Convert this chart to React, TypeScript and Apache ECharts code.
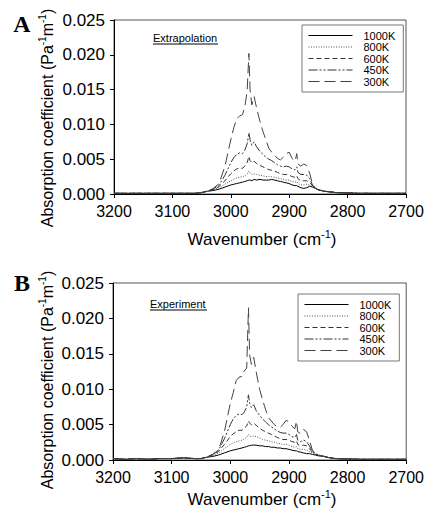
import React, { useEffect, useRef } from "react";
import * as echarts from "echarts";

const wavenumbers = [3200,3180,3160,3140,3120,3100,3080,3060,3050,3040,3030,3020,3010,3000,2995,2990,2985,2980,2976,2972,2969,2967,2964,2960,2956,2950,2945,2940,2935,2930,2925,2920,2915,2910,2905,2900,2895,2890,2887,2885,2880,2875,2870,2865,2860,2855,2850,2840,2830,2820,2800,2780,2760,2740,2720,2700];

const seriesNames = ["1000K", "800K", "600K", "450K", "300K"];
const yTicks = [0, 0.005, 0.01, 0.015, 0.02, 0.025];

// Panel A (Extrapolation)
const extrap1000K = [0.0001,0.0001,0.0001,0.0001,0.0001,0.0001,0.0001,0.0001,0.0002,0.0004,0.0005,0.0007,0.0010,0.0013,0.0014,0.0015,0.0016,0.0017,0.0018,0.0019,0.0020,0.0020,0.0019,0.0021,0.0020,0.0021,0.0020,0.0020,0.0020,0.0021,0.0020,0.0019,0.0018,0.0017,0.0016,0.0015,0.0013,0.0012,0.0012,0.0011,0.0009,0.0008,0.0009,0.0011,0.0010,0.0008,0.0006,0.0004,0.0003,0.0002,0.00015,0.0001,0.0001,0.0001,0.0001,0.0001];
const extrap800K = [0.0001,0.0001,0.0001,0.0001,0.0001,0.0001,0.0001,0.0001,0.0002,0.0004,0.0006,0.0009,0.0014,0.0019,0.0021,0.0023,0.0024,0.0025,0.0026,0.0029,0.0033,0.0030,0.0028,0.0029,0.0028,0.0027,0.0026,0.0025,0.0025,0.0025,0.0024,0.0023,0.0022,0.0021,0.0020,0.0020,0.0018,0.0017,0.0018,0.0015,0.0013,0.0013,0.0014,0.0013,0.0011,0.0008,0.0006,0.0004,0.0003,0.0002,0.00015,0.0001,0.0001,0.0001,0.0001,0.0001];
const extrap600K = [0.0001,0.0001,0.0001,0.0001,0.0001,0.0001,0.0001,0.0001,0.0002,0.0004,0.0006,0.0011,0.0019,0.0029,0.0033,0.0036,0.0037,0.0037,0.0040,0.0045,0.0054,0.0048,0.0045,0.0047,0.0044,0.0041,0.0039,0.0037,0.0035,0.0034,0.0033,0.0031,0.0029,0.0028,0.0028,0.0027,0.0025,0.0024,0.0026,0.0022,0.0019,0.0019,0.0019,0.0017,0.0012,0.0008,0.0006,0.0004,0.0003,0.0002,0.00015,0.0001,0.0001,0.0001,0.0001,0.0001];
const extrap450K = [0.0001,0.0001,0.0001,0.0001,0.0001,0.0001,0.0001,0.0001,0.0002,0.0004,0.0007,0.0013,0.0027,0.0045,0.0052,0.0057,0.0059,0.0058,0.0063,0.0072,0.0088,0.0078,0.0070,0.0075,0.0068,0.0061,0.0057,0.0053,0.0050,0.0048,0.0045,0.0042,0.0040,0.0039,0.0040,0.0039,0.0036,0.0035,0.0039,0.0031,0.0028,0.0028,0.0027,0.0022,0.0013,0.0008,0.0006,0.0004,0.0003,0.0002,0.00015,0.0001,0.0001,0.0001,0.0001,0.0001];
const extrap300K = [0.0001,0.0001,0.0001,0.0001,0.0001,0.0001,0.0001,0.0001,0.0002,0.0004,0.0008,0.0015,0.0040,0.0078,0.0095,0.0108,0.0112,0.0114,0.0125,0.0148,0.0202,0.0150,0.0128,0.0140,0.0124,0.0104,0.0090,0.0078,0.0066,0.0060,0.0056,0.0051,0.0049,0.0053,0.0058,0.0060,0.0051,0.0047,0.0058,0.0043,0.0040,0.0043,0.0041,0.0030,0.0014,0.0008,0.0006,0.0004,0.0003,0.0002,0.00015,0.0001,0.0001,0.0001,0.0001,0.0001];

// Panel B (Experiment)
const exper1000K = [0.0002,0.0001,0.0002,0.0001,0.0002,0.0002,0.0003,0.0002,0.0002,0.0004,0.0005,0.0007,0.0010,0.0013,0.0014,0.0015,0.0016,0.0017,0.0018,0.0019,0.0020,0.0020,0.0021,0.0021,0.0021,0.0020,0.0020,0.0019,0.0019,0.0018,0.0018,0.0017,0.0017,0.0016,0.0016,0.0015,0.0014,0.0013,0.0013,0.0012,0.0011,0.0010,0.0009,0.0009,0.0008,0.0007,0.0006,0.0005,0.0003,0.0002,0.00015,0.0001,0.0001,0.0001,0.0001,0.0001];
const exper800K = [0.0002,0.0001,0.0002,0.0001,0.0002,0.0002,0.0003,0.0002,0.0002,0.0004,0.0006,0.0010,0.0016,0.0022,0.0024,0.0026,0.0027,0.0028,0.0030,0.0032,0.0036,0.0034,0.0033,0.0034,0.0033,0.0031,0.0029,0.0028,0.0027,0.0026,0.0025,0.0024,0.0023,0.0022,0.0022,0.0021,0.0019,0.0018,0.0019,0.0016,0.0015,0.0015,0.0014,0.0012,0.0010,0.0008,0.0006,0.0005,0.0003,0.0002,0.00015,0.0001,0.0001,0.0001,0.0001,0.0001];
const exper600K = [0.0002,0.0001,0.0002,0.0001,0.0002,0.0002,0.0003,0.0002,0.0002,0.0004,0.0007,0.0012,0.0022,0.0033,0.0037,0.0040,0.0042,0.0042,0.0045,0.0048,0.0055,0.0052,0.0050,0.0052,0.0049,0.0045,0.0042,0.0040,0.0038,0.0036,0.0034,0.0032,0.0030,0.0029,0.0029,0.0028,0.0026,0.0025,0.0027,0.0022,0.0020,0.0021,0.0020,0.0016,0.0011,0.0008,0.0007,0.0005,0.0003,0.0002,0.00015,0.0001,0.0001,0.0001,0.0001,0.0001];
const exper450K = [0.0002,0.0001,0.0002,0.0001,0.0002,0.0002,0.0003,0.0002,0.0002,0.0004,0.0008,0.0014,0.0030,0.0050,0.0058,0.0063,0.0065,0.0064,0.0068,0.0075,0.0092,0.0080,0.0074,0.0078,0.0070,0.0063,0.0058,0.0054,0.0050,0.0047,0.0044,0.0041,0.0039,0.0038,0.0038,0.0036,0.0033,0.0032,0.0036,0.0028,0.0026,0.0028,0.0026,0.0020,0.0012,0.0009,0.0007,0.0005,0.0003,0.0002,0.00015,0.0001,0.0001,0.0001,0.0001,0.0001];
const exper300K = [0.0002,0.0001,0.0002,0.0001,0.0002,0.0002,0.0003,0.0002,0.0002,0.0004,0.0008,0.0014,0.0040,0.0080,0.0095,0.0112,0.0117,0.0118,0.0126,0.0130,0.0215,0.0148,0.0135,0.0145,0.0125,0.0100,0.0085,0.0072,0.0060,0.0055,0.0050,0.0047,0.0046,0.0050,0.0056,0.0054,0.0048,0.0044,0.0055,0.0040,0.0037,0.0043,0.0040,0.0028,0.0014,0.0009,0.0007,0.0005,0.0003,0.0002,0.00015,0.0001,0.0001,0.0001,0.0001,0.0001];

const FONT = "'Liberation Sans', Arial, sans-serif";

const lineStyles: Record<string, any> = {
  "1000K": { color: "#000", type: "solid", width: 1 },
  "800K": { color: "#555", type: [1, 1.5], width: 1 },
  "600K": { color: "#333", type: [5, 3], width: 1 },
  "450K": { color: "#333", type: [9, 2, 2, 2, 2, 2], width: 1 },
  "300K": { color: "#444", type: [11, 5], width: 1 },
};

function makeSeries(name: string, values: number[], idx: number) {
  return {
    type: "line",
    name,
    xAxisIndex: idx,
    yAxisIndex: idx,
    data: wavenumbers.map((w, i) => [w, values[i]]),
    showSymbol: false,
    symbol: "none",
    lineStyle: lineStyles[name],
    itemStyle: { color: lineStyles[name].color },
    silent: true,
  };
}

function xAxis(gridIndex: number) {
  return {
    gridIndex,
    type: "value",
    inverse: true,
    min: 2700,
    max: 3200,
    interval: 100,
    axisLine: { show: true, lineStyle: { color: "#000", width: 1 } },
    axisTick: { show: true, inside: false, length: 4, lineStyle: { color: "#000" } },
    axisLabel: { fontSize: 16, fontFamily: FONT, color: "#000", margin: 9, formatter: (v: number) => String(Math.round(v)) },
    splitLine: { show: false },
  };
}

function yAxis(gridIndex: number) {
  return {
    gridIndex,
    type: "value",
    min: 0,
    max: 0.025,
    interval: 0.005,
    axisLine: { show: true, lineStyle: { color: "#000", width: 1 } },
    axisTick: { show: true, inside: false, length: 4, lineStyle: { color: "#000" } },
    axisLabel: {
      fontSize: 17,
      fontFamily: FONT,
      color: "#000",
      margin: 9,
      formatter: (v: number) => {
        const t = yTicks.find((y) => Math.abs(y - v) < 1e-9);
        return (t !== undefined ? t : v).toFixed(3);
      },
    },
    splitLine: { show: false },
  };
}

function legend(left: number, top: number) {
  return {
    orient: "vertical",
    left,
    top,
    itemWidth: 44,
    itemHeight: 12,
    itemGap: 0.5,
    padding: [5, 8, 5, 6],
    borderColor: "#777",
    borderWidth: 1,
    selectedMode: false,
    data: seriesNames,
    itemStyle: { opacity: 0 },
    lineStyle: { width: 1 },
    textStyle: { fontSize: 11, fontFamily: FONT, color: "#000", padding: [0, 0, 0, 6] },
  };
}

const rich = {
  a: { fontSize: 17, fontFamily: FONT, color: "#000" },
  s: { fontSize: 11, fontFamily: FONT, color: "#000", padding: [0, 0, 10, 0] },
};
const richY = {
  a: { fontSize: 16, fontFamily: FONT, color: "#000" },
  s: { fontSize: 10, fontFamily: FONT, color: "#000", padding: [0, 0, 9, 0] },
};

function titles(yOffset: number, letter: string, note: string, noteX: number, noteY: number, noteW: number, xTitleY: number, yTitleY: number) {
  return [
    {
      type: "text",
      x: 22,
      y: 24 + yOffset,
      style: { text: letter, font: "bold 24px 'Liberation Serif', 'Times New Roman', serif", fill: "#000", align: "center", verticalAlign: "middle", textAlign: "center", textVerticalAlign: "middle" },
    },
    {
      type: "text",
      x: noteX,
      y: noteY,
      style: { text: note, font: `11px ${FONT}`, fill: "#000", align: "left", verticalAlign: "middle", textAlign: "left", textVerticalAlign: "middle" },
    },
    {
      type: "line",
      shape: { x1: noteX, y1: noteY + 6, x2: noteX + noteW, y2: noteY + 6 },
      style: { stroke: "#000", lineWidth: 1 },
    },
    {
      type: "text",
      x: 262,
      y: xTitleY,
      style: { text: "{a|Wavenumber (cm}{s|-1}{a|)}", rich, align: "center", verticalAlign: "middle", textAlign: "center", textVerticalAlign: "middle" },
    },
    {
      type: "text",
      x: 47,
      y: yTitleY,
      rotation: Math.PI / 2,
      style: { text: "{a|Absorption coefficient (Pa}{s|-1}{a|m}{s|-1}{a|)}", rich: richY, align: "center", verticalAlign: "middle", textAlign: "center", textVerticalAlign: "middle" },
    },
  ];
}

export default function App() {
  const ref = useRef<HTMLDivElement>(null);
  useEffect(() => {
    if (!ref.current) return;
    const chart = echarts.init(ref.current, undefined, { renderer: "svg" });
    const seriesA = [extrap1000K, extrap800K, extrap600K, extrap450K, extrap300K];
    const seriesB = [exper1000K, exper800K, exper600K, exper450K, exper300K];
    const option: any = {
      animation: false,
      backgroundColor: "#fff",
      grid: [
        { left: 114, top: 20, width: 292, height: 174, show: true, borderColor: "#555", borderWidth: 1, backgroundColor: "transparent" },
        { left: 113, top: 283, width: 294, height: 177, show: true, borderColor: "#555", borderWidth: 1, backgroundColor: "transparent" },
      ],
      xAxis: [xAxis(0), xAxis(1)],
      yAxis: [yAxis(0), yAxis(1)],
      legend: [legend(302, 25), legend(298, 294)],
      series: [
        ...seriesNames.map((n, i) => makeSeries(n, seriesA[i], 0)),
        ...seriesNames.map((n, i) => makeSeries(n, seriesB[i], 1)),
      ],
      graphic: [
        ...titles(0, "A", "Extrapolation", 153, 38, 65, 239, 118),
        ...titles(259, "B", "Experiment", 150, 304, 57, 499, 380),
      ],
    };
    chart.setOption(option);
    return () => chart.dispose();
  }, []);
  return <div ref={ref} style={{ position: "absolute", left: 0, top: 0, width: 427, height: 510 }} />;
}
